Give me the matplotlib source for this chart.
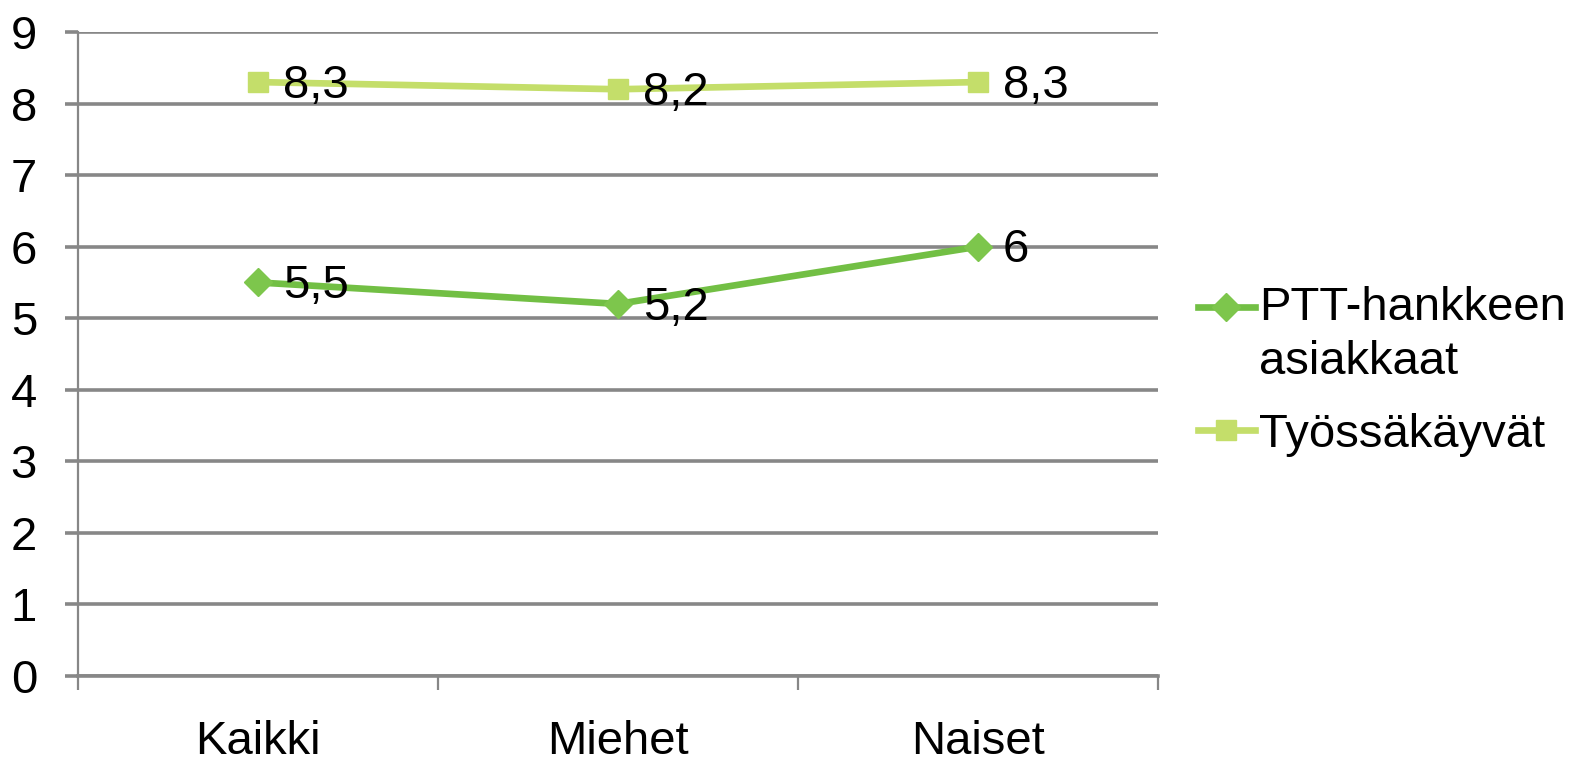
import matplotlib.pyplot as plt
from matplotlib.legend_handler import HandlerLine2D

plt.rcParams['font.family'] = ['Liberation Sans', 'DejaVu Sans']

categories = ['Kaikki', 'Miehet', 'Naiset']
ptt_values = [5.5, 5.2, 6.0]
ptt_labels = ['5,5', '5,2', '6']
work_values = [8.3, 8.2, 8.3]
work_labels = ['8,3', '8,2', '8,3']
series_names = ['PTT-hankkeen\nasiakkaat', 'Työssäkäyvät']

ptt_color = '#72BF44'
work_color = '#C4DE6A'
grid_color = '#878787'
fs = 34


class RaisedLine(HandlerLine2D):
    # keep the handle level with the first line of a two-line label
    def __init__(self, lift, **kw):
        super().__init__(**kw)
        self.lift = lift

    def create_artists(self, legend, orig_handle, xdescent, ydescent,
                       width, height, fontsize, trans):
        return super().create_artists(legend, orig_handle, xdescent,
                                      ydescent - 2 * self.lift * fontsize,
                                      width, height, fontsize, trans)


fig = plt.figure(figsize=(15.7, 7.65), dpi=100)
ax = fig.add_axes([78 / 1570, 89 / 765, 1080 / 1570, 644 / 765])

x = range(len(categories))
ptt_line, = ax.plot(x, ptt_values, color=ptt_color, lw=4.8, marker='D', ms=14,
                    markerfacecolor='#7DC64C', markeredgecolor='#7DC64C',
                    label=series_names[0], zorder=3)
work_line, = ax.plot(x, work_values, color=work_color, lw=4.8, marker='s', ms=15,
                     markerfacecolor=work_color, markeredgecolor=work_color,
                     label=series_names[1], zorder=3)

for xi, v, t in zip(x, ptt_values, ptt_labels):
    ax.annotate(t, (xi, v), xytext=(18, 1), textcoords='offset points',
                ha='left', va='center_baseline', fontsize=fs, zorder=4)
for xi, v, t in zip(x, work_values, work_labels):
    ax.annotate(t, (xi, v), xytext=(18, 1), textcoords='offset points',
                ha='left', va='center_baseline', fontsize=fs, zorder=4)

ax.set_xlim(-0.5, 2.5)
ax.set_ylim(0, 9)
ax.set_yticks(range(0, 10))
ax.yaxis.grid(True, color=grid_color, lw=2.6)
ax.set_axisbelow(True)

# category boundaries as major ticks, names as minor tick labels
ax.set_xticks([-0.5, 0.5, 1.5, 2.5])
ax.set_xticklabels([])
ax.set_xticks(list(x), minor=True)
ax.set_xticklabels(categories, minor=True, fontsize=fs)
ax.tick_params(axis='x', which='major', length=10, width=1.6, color=grid_color, direction='out')
ax.tick_params(axis='x', which='minor', length=0, pad=32)
ax.tick_params(axis='y', length=9.5, width=2.6, color=grid_color, labelsize=fs, pad=20)

for s in ['top', 'right']:
    ax.spines[s].set_visible(False)
ax.spines['left'].set_color(grid_color)
ax.spines['left'].set_linewidth(1.6)
ax.spines['bottom'].set_color(grid_color)
ax.spines['bottom'].set_linewidth(2.6)

leg = fig.legend(loc='upper left', bbox_to_anchor=(1198 / 1570, 1 - 286 / 765),
                 frameon=False, fontsize=fs, handlelength=1.2, handletextpad=0.1,
                 labelspacing=0.6, borderpad=0, borderaxespad=0,
                 handler_map={ptt_line: RaisedLine(0.6)})
for t in leg.get_texts():
    t.set_linespacing(1.3)

fig.savefig('out.png', dpi=100)
